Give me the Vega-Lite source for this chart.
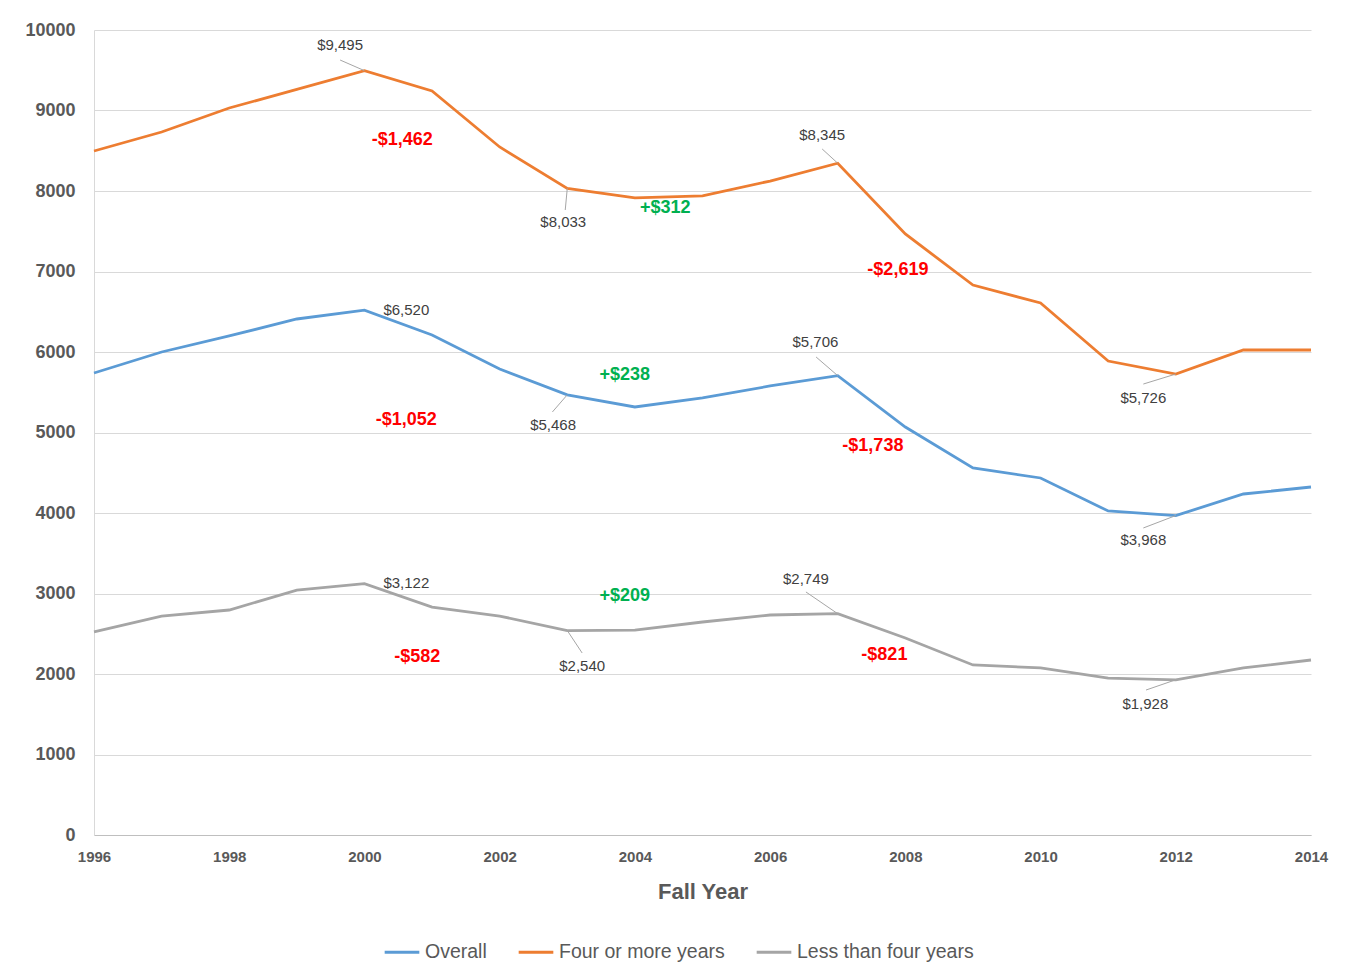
{
  "$schema": "https://vega.github.io/schema/vega-lite/v6.json",
  "autosize": "none",
  "padding": {"left": 94, "top": 30, "right": 46, "bottom": 144},
  "width": 1217,
  "height": 805,
  "background": "white",
  "config": {
    "font": "Liberation Sans",
    "view": {"stroke": null},
    "axis": {
      "labelColor": "#595959",
      "labelFont": "Liberation Sans",
      "labelFontWeight": "bold",
      "titleColor": "#595959",
      "titleFont": "Liberation Sans",
      "gridColor": "#D9D9D9",
      "domainColor": "#D9D9D9",
      "ticks": false
    }
  },
  "datasets": {
    "cost": [
      {"year": 1996, "series": "Overall", "value": 5739},
      {"year": 1997, "series": "Overall", "value": 6000},
      {"year": 1998, "series": "Overall", "value": 6199},
      {"year": 1999, "series": "Overall", "value": 6410},
      {"year": 2000, "series": "Overall", "value": 6520},
      {"year": 2001, "series": "Overall", "value": 6211},
      {"year": 2002, "series": "Overall", "value": 5789},
      {"year": 2003, "series": "Overall", "value": 5468},
      {"year": 2004, "series": "Overall", "value": 5317},
      {"year": 2005, "series": "Overall", "value": 5429},
      {"year": 2006, "series": "Overall", "value": 5578},
      {"year": 2007, "series": "Overall", "value": 5706},
      {"year": 2008, "series": "Overall", "value": 5068},
      {"year": 2009, "series": "Overall", "value": 4559},
      {"year": 2010, "series": "Overall", "value": 4435},
      {"year": 2011, "series": "Overall", "value": 4025},
      {"year": 2012, "series": "Overall", "value": 3968},
      {"year": 2013, "series": "Overall", "value": 4236},
      {"year": 2014, "series": "Overall", "value": 4323},
      {"year": 1996, "series": "Four or more years", "value": 8497},
      {"year": 1997, "series": "Four or more years", "value": 8733},
      {"year": 1998, "series": "Four or more years", "value": 9031},
      {"year": 1999, "series": "Four or more years", "value": 9262},
      {"year": 2000, "series": "Four or more years", "value": 9495},
      {"year": 2001, "series": "Four or more years", "value": 9242},
      {"year": 2002, "series": "Four or more years", "value": 8547},
      {"year": 2003, "series": "Four or more years", "value": 8033},
      {"year": 2004, "series": "Four or more years", "value": 7915},
      {"year": 2005, "series": "Four or more years", "value": 7940},
      {"year": 2006, "series": "Four or more years", "value": 8124},
      {"year": 2007, "series": "Four or more years", "value": 8345},
      {"year": 2008, "series": "Four or more years", "value": 7466},
      {"year": 2009, "series": "Four or more years", "value": 6832},
      {"year": 2010, "series": "Four or more years", "value": 6609},
      {"year": 2011, "series": "Four or more years", "value": 5888},
      {"year": 2012, "series": "Four or more years", "value": 5726},
      {"year": 2013, "series": "Four or more years", "value": 6025},
      {"year": 2014, "series": "Four or more years", "value": 6025},
      {"year": 1996, "series": "Less than four years", "value": 2522},
      {"year": 1997, "series": "Less than four years", "value": 2720},
      {"year": 1998, "series": "Less than four years", "value": 2795},
      {"year": 1999, "series": "Less than four years", "value": 3043},
      {"year": 2000, "series": "Less than four years", "value": 3122},
      {"year": 2001, "series": "Less than four years", "value": 2832},
      {"year": 2002, "series": "Less than four years", "value": 2720},
      {"year": 2003, "series": "Less than four years", "value": 2540},
      {"year": 2004, "series": "Less than four years", "value": 2545},
      {"year": 2005, "series": "Less than four years", "value": 2646},
      {"year": 2006, "series": "Less than four years", "value": 2733},
      {"year": 2007, "series": "Less than four years", "value": 2749},
      {"year": 2008, "series": "Less than four years", "value": 2447},
      {"year": 2009, "series": "Less than four years", "value": 2112},
      {"year": 2010, "series": "Less than four years", "value": 2075},
      {"year": 2011, "series": "Less than four years", "value": 1950},
      {"year": 2012, "series": "Less than four years", "value": 1928},
      {"year": 2013, "series": "Less than four years", "value": 2075},
      {"year": 2014, "series": "Less than four years", "value": 2174}
    ],
    "leaders": [
      {"x": 1999.64, "y": 9627, "x2": 2000, "y2": 9495},
      {"x": 2002.97, "y": 7764, "x2": 2003, "y2": 8033},
      {"x": 2006.77, "y": 8522, "x2": 2007, "y2": 8345},
      {"x": 2002.78, "y": 5255, "x2": 2003, "y2": 5468},
      {"x": 2006.68, "y": 5938, "x2": 2007, "y2": 5706},
      {"x": 2011.52, "y": 5602, "x2": 2012, "y2": 5726},
      {"x": 2011.52, "y": 3814, "x2": 2012, "y2": 3968},
      {"x": 2006.53, "y": 3019, "x2": 2007, "y2": 2749},
      {"x": 2003.22, "y": 2261, "x2": 2003, "y2": 2540},
      {"x": 2011.56, "y": 1801, "x2": 2012, "y2": 1928}
    ],
    "points": [
      {"x": 1999.64, "y": 9814, "label": "$9,495"},
      {"x": 2002.94, "y": 7615, "label": "$8,033"},
      {"x": 2006.77, "y": 8696, "label": "$8,345"},
      {"x": 2000.62, "y": 6522, "label": "$6,520"},
      {"x": 2002.79, "y": 5093, "label": "$5,468"},
      {"x": 2006.67, "y": 6124, "label": "$5,706"},
      {"x": 2011.52, "y": 5429, "label": "$5,726"},
      {"x": 2011.52, "y": 3665, "label": "$3,968"},
      {"x": 2000.62, "y": 3130, "label": "$3,122"},
      {"x": 2006.53, "y": 3180, "label": "$2,749"},
      {"x": 2003.22, "y": 2100, "label": "$2,540"},
      {"x": 2011.55, "y": 1627, "label": "$1,928"}
    ],
    "changes": [
      {"x": 2000.56, "y": 8634, "label": "-$1,462", "sign": "-"},
      {"x": 2004.45, "y": 7789, "label": "+$312", "sign": "+"},
      {"x": 2007.89, "y": 7019, "label": "-$2,619", "sign": "-"},
      {"x": 2003.85, "y": 5714, "label": "+$238", "sign": "+"},
      {"x": 2000.62, "y": 5155, "label": "-$1,052", "sign": "-"},
      {"x": 2007.52, "y": 4832, "label": "-$1,738", "sign": "-"},
      {"x": 2003.85, "y": 2969, "label": "+$209", "sign": "+"},
      {"x": 2000.78, "y": 2211, "label": "-$582", "sign": "-"},
      {"x": 2007.69, "y": 2236, "label": "-$821", "sign": "-"}
    ]
  },
  "layer": [
    {
      "data": {"name": "cost"},
      "mark": {"type": "line", "strokeWidth": 2.8},
      "encoding": {
        "x": {
          "field": "year",
          "type": "quantitative",
          "scale": {"domain": [1996, 2014], "nice": false, "zero": false},
          "axis": {
            "values": [1996, 1998, 2000, 2002, 2004, 2006, 2008, 2010, 2012, 2014],
            "format": "d",
            "grid": false,
            "labelFontSize": 15,
            "labelPadding": 14,
            "labelFlush": false,
            "domainColor": "#BFBFBF",
            "title": "Fall Year",
            "titleFontSize": 22,
            "titleFontWeight": "bold",
            "titlePadding": 17
          }
        },
        "y": {
          "field": "value",
          "type": "quantitative",
          "scale": {"domain": [0, 10000], "nice": false},
          "axis": {
            "values": [0, 1000, 2000, 3000, 4000, 5000, 6000, 7000, 8000, 9000, 10000],
            "format": "d",
            "labelFontSize": 18,
            "labelPadding": 19,
            "labelFlush": false,
            "title": null
          }
        },
        "color": {
          "field": "series",
          "type": "nominal",
          "scale": {
            "domain": ["Overall", "Four or more years", "Less than four years"],
            "range": ["#5B9BD5", "#ED7D31", "#A5A5A5"]
          },
          "legend": {
            "title": null,
            "orient": "none",
            "direction": "horizontal",
            "legendX": 289,
            "legendY": 903,
            "symbolType": "stroke",
            "symbolSize": 1200,
            "symbolStrokeWidth": 3,
            "labelFontSize": 19.5,
            "labelLimit": 0,
            "labelColor": "#595959",
            "labelOffset": 4,
            "columnPadding": 25
          }
        }
      }
    },
    {
      "data": {"name": "leaders"},
      "mark": {"type": "rule", "color": "#A6A6A6", "strokeWidth": 1},
      "encoding": {
        "x": {"field": "x", "type": "quantitative"},
        "y": {"field": "y", "type": "quantitative"},
        "x2": {"field": "x2"},
        "y2": {"field": "y2"}
      }
    },
    {
      "data": {"name": "points"},
      "mark": {"type": "text", "fontSize": 15, "color": "#404040", "align": "center", "baseline": "middle"},
      "encoding": {
        "x": {"field": "x", "type": "quantitative"},
        "y": {"field": "y", "type": "quantitative"},
        "text": {"field": "label"}
      }
    },
    {
      "data": {"name": "changes"},
      "mark": {"type": "text", "fontSize": 18, "fontWeight": "bold", "align": "center", "baseline": "middle"},
      "encoding": {
        "x": {"field": "x", "type": "quantitative"},
        "y": {"field": "y", "type": "quantitative"},
        "text": {"field": "label"},
        "color": {
          "condition": {"test": "datum.sign === '+'", "value": "#00B050"},
          "value": "#FF0000"
        }
      }
    }
  ]
}
